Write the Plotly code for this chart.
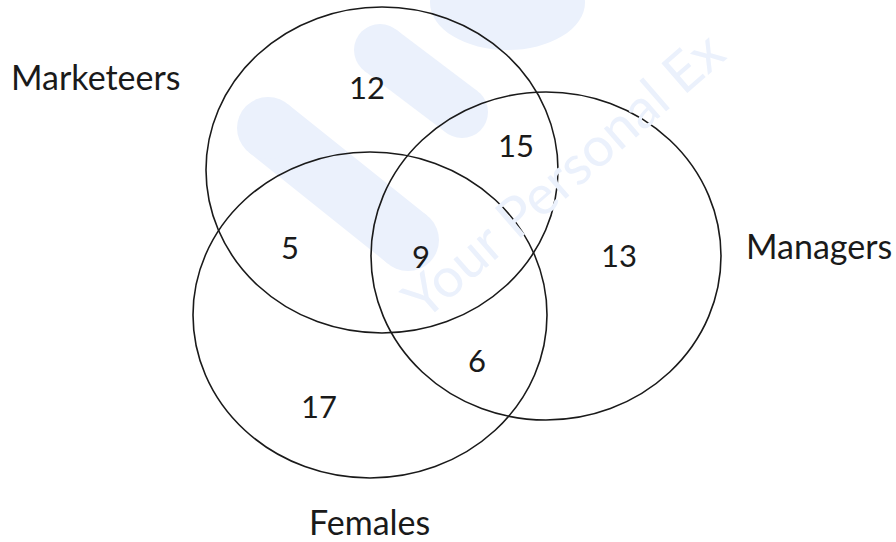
import plotly.graph_objects as go

# ---- data ----
set_names = ["Marketeers", "Managers", "Females"]
region_names = ["Marketeers only", "Marketeers & Managers", "Managers only",
                "Marketeers & Females", "All three", "Managers & Females", "Females only"]
region_values = [12, 15, 13, 5, 9, 6, 17]
watermark_text = "Your Personal Ex"

# ---- layout geometry (pixel space of the 896x542 picture) ----
circle_cx = [382, 546, 370]
circle_cy = [170, 256, 315]
circle_rx = [176, 175, 177]
circle_ry = [163, 164, 163]

region_x = [367, 516, 619, 290, 421, 477, 319]
region_y = [87, 145, 255, 247, 256, 360, 406]

set_label_x = [95, 819, 369]
set_label_y = [76, 245, 521]

W, H = 896, 542
FONT = "Lato, Carlito, Calibri, sans-serif"
INK = "#1a1a1a"
WM = "#ebf1fc"

fig = go.Figure()

# invisible anchor trace so the axes exist
fig.add_trace(go.Scatter(x=[0, W], y=[0, H], mode="markers",
                         marker=dict(opacity=0), hoverinfo="skip", showlegend=False))

# faint background watermark (logo strokes + text)
for (xa, ya, xb, yb, w) in [(268, 128, 408, 240, 62), (380, 50, 462, 112, 52)]:
    fig.add_shape(type="line", xref="x", yref="y", x0=xa, y0=ya, x1=xb, y1=yb,
                  line=dict(color=WM, width=w), layer="below")
    for (px, py) in [(xa, ya), (xb, yb)]:
        r = w / 2
        fig.add_shape(type="circle", xref="x", yref="y", x0=px - r, x1=px + r,
                      y0=py - r, y1=py + r, line=dict(width=0), fillcolor=WM, layer="below")
fig.add_shape(type="circle", xref="x", yref="y", x0=430, x1=585, y0=-45, y1=50,
              line=dict(width=0), fillcolor=WM, layer="below")

fig.add_annotation(x=562, y=174, text=watermark_text, showarrow=False,
                   textangle=-41, font=dict(family=FONT, size=55, color=WM),
                   xref="x", yref="y")

for cx, cy, rx, ry in zip(circle_cx, circle_cy, circle_rx, circle_ry):
    fig.add_shape(type="circle", xref="x", yref="y",
                  x0=cx - rx, x1=cx + rx, y0=cy - ry, y1=cy + ry,
                  line=dict(color=INK, width=1.6), fillcolor="rgba(0,0,0,0)")

for v, x, y in zip(region_values, region_x, region_y):
    fig.add_annotation(x=x, y=y, text=str(v), showarrow=False, xref="x", yref="y",
                       font=dict(family=FONT, size=31, color=INK))

for name, x, y in zip(set_names, set_label_x, set_label_y):
    fig.add_annotation(x=x, y=y, text=name, showarrow=False, xref="x", yref="y",
                       font=dict(family=FONT, size=34, color=INK))

fig.update_xaxes(range=[0, W], visible=False, fixedrange=True)
fig.update_yaxes(range=[H, 0], visible=False, fixedrange=True)
fig.update_layout(width=W, height=H, margin=dict(l=0, r=0, t=0, b=0),
                  paper_bgcolor="white", plot_bgcolor="white", showlegend=False)

fig.write_html("out.html", config={"displayModeBar": False, "staticPlot": True},
               post_script="document.body.style.margin='0';document.body.style.overflow='hidden';")
